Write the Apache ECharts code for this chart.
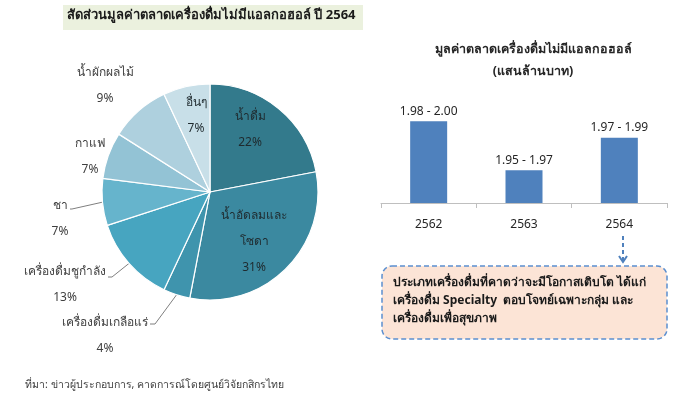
<!DOCTYPE html>
<html>
<head>
<meta charset="utf-8">
<script src="https://cdn.jsdelivr.net/npm/echarts@6/dist/echarts.min.js"></script>
<style>
  html, body { margin: 0; padding: 0; background: #fff; }
  #chart { width: 700px; height: 404px; }
</style>
</head>
<body>
<div id="chart"></div>
<script>
// pie: share of non-alcoholic drink market, 2564
const shareNames = ['น้ำดื่ม', 'น้ำอัดลมและ\nโซดา', 'เครื่องดื่มเกลือแร่', 'เครื่องดื่มชูกำลัง', 'ชา', 'กาแฟ', 'น้ำผักผลไม้', 'อื่นๆ'];
const shareValues = [22, 31, 4, 13, 7, 7, 9, 7];
const shareColors = ['#337a8c', '#3b89a0', '#3f94ad', '#47a5c0', '#66b4cc', '#93c3d5', '#aed0de', '#c8dfe8'];

// bars: market value (แสนล้านบาท)
const years = ['2562', '2563', '2564'];
const rangeLow = ['1.98', '1.95', '1.97'];
const rangeHigh = ['2.00', '1.97', '1.99'];
const barValues = [1.99, 1.96, 1.98];

const FONT = "'Noto Sans', 'Liberation Sans', sans-serif";

// label placement for each slice (x, y of label block center, leader line end)
const labelSpots = [
  { x: 250, y: 130 },
  { x: 254, y: 242 },
  { x: 105, y: 336, line: [[155, 324], [150, 324]] },
  { x: 65, y: 285, line: [[112, 277], [108, 277]] },
  { x: 60, y: 219, line: [[72, 209], [70, 209]] },
  { x: 90, y: 157 },
  { x: 105, y: 86 },
  { x: 196, y: 116 }
];
const insideIdx = [0, 1, 7];

const chart = echarts.init(document.getElementById('chart'));

const pieData = shareNames.map((name, i) => ({
  name: name,
  value: shareValues[i],
  itemStyle: { color: shareColors[i] },
  label: {
    color: insideIdx.includes(i) ? '#1f2a2e' : '#404040'
  },
  labelLine: { show: !!labelSpots[i].line }
}));

const option = {
  animation: false,
  title: [{
    text: 'มูลค่าตลาดเครื่องดื่มไม่มีแอลกอฮอล์',
    subtext: '(แสนล้านบาท)',
    left: 528,
    top: 38,
    textAlign: 'center',
    itemGap: 9,
    textStyle: { fontFamily: FONT, fontSize: 12.5, fontWeight: 'bold', color: '#262626' },
    subtextStyle: { fontFamily: FONT, fontSize: 12.5, fontWeight: 'bold', color: '#262626' }
  }],
  grid: { left: 381, right: 33, top: 105, bottom: 201 },
  xAxis: {
    type: 'category',
    data: years,
    axisLine: { lineStyle: { color: '#bfbfbf' } },
    axisTick: { show: true, length: 5, lineStyle: { color: '#bfbfbf' } },
    axisLabel: { margin: 16, fontFamily: FONT, fontSize: 12, color: '#262626' }
  },
  yAxis: { type: 'value', min: 1.94, max: 2.0, show: false },
  series: [{
    type: 'bar',
    data: barValues,
    barWidth: 37,
    itemStyle: { color: '#4f81bd' },
    label: {
      show: true,
      position: 'top',
      distance: 4,
      fontFamily: FONT,
      fontSize: 12,
      color: '#262626',
      formatter: p => rangeLow[p.dataIndex] + ' - ' + rangeHigh[p.dataIndex]
    }
  }, {
    type: 'pie',
    center: [210, 192],
    radius: 108,
    startAngle: 90,
    clockwise: true,
    itemStyle: { borderColor: '#ffffff', borderWidth: 1.2 },
    label: {
      show: true,
      position: 'outside',
      overflow: 'none',
      fontFamily: FONT,
      fontSize: 12,
      lineHeight: 26,
      align: 'center',
      formatter: p => p.name + '\n' + p.value + '%'
    },
    labelLine: { lineStyle: { color: '#7f7f7f', width: 1 } },
    labelLayout: p => {
      const s = labelSpots[p.dataIndex];
      const res = { x: s.x, y: s.y, align: 'center', verticalAlign: 'middle' };
      if (s.line && p.labelLinePoints) {
        res.labelLinePoints = [p.labelLinePoints[0], s.line[0], s.line[1]];
      }
      return res;
    },
    data: pieData
  }],
  graphic: [
    {
      type: 'rect', z: -1,
      shape: { x: 63, y: 5, width: 300, height: 25 },
      style: { fill: '#ebf1de' }
    },
    {
      type: 'text', left: 67, top: 9,
      style: {
        text: 'สัดส่วนมูลค่าตลาดเครื่องดื่มไม่มีแอลกอฮอล์ ปี 2564',
        font: 'bold 13px ' + FONT, fill: '#1a1a1a'
      }
    },
    {
      type: 'line',
      shape: { x1: 623, y1: 236, x2: 623, y2: 262 },
      style: { stroke: '#4f81bd', lineWidth: 2, lineDash: [4, 3] }
    },
    {
      type: 'polyline',
      shape: { points: [[619, 256], [623, 262], [627, 256]] },
      style: { stroke: '#4f81bd', lineWidth: 2, fill: null }
    },
    {
      type: 'rect',
      shape: { x: 382, y: 266, width: 285, height: 73, r: 10 },
      style: { fill: '#fce4d6', stroke: '#5b8fd0', lineWidth: 1.5, lineDash: [5, 3] }
    },
    {
      type: 'text', left: 393, top: 274,
      style: {
        text: 'ประเภทเครื่องดื่มที่คาดว่าจะมีโอกาสเติบโต ได้แก่\nเครื่องดื่ม Specialty  ตอบโจทย์เฉพาะกลุ่ม และ\nเครื่องดื่มเพื่อสุขภาพ',
        font: 'bold 12px ' + FONT, lineHeight: 18, fill: '#1a1a1a'
      }
    },
    {
      type: 'text', left: 25, top: 380,
      style: {
        text: 'ที่มา: ข่าวผู้ประกอบการ, คาดการณ์โดยศูนย์วิจัยกสิกรไทย',
        font: '10.5px ' + FONT, fill: '#404040'
      }
    }
  ]
};

chart.setOption(option);
</script>
</body>
</html>
